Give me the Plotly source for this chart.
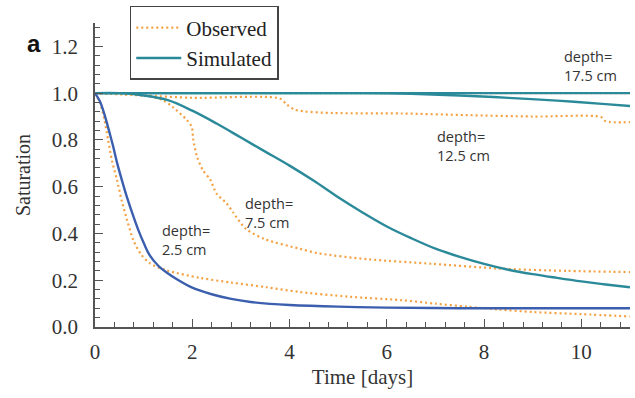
import plotly.graph_objects as go

# ---- data ----
t_sim25 = [0, 0.1, 0.2, 0.3, 0.37, 0.45, 0.55, 0.65, 0.82, 0.9, 1.0, 1.13, 1.3, 1.48, 1.7, 2.0, 2.4, 2.8, 3.2, 3.6, 4.0, 5.0, 6.0, 7.0, 8.0, 9.0, 10.0, 11.0]
s_sim25 = [1.0, 0.965, 0.905, 0.83, 0.775, 0.705, 0.63, 0.56, 0.455, 0.41, 0.36, 0.305, 0.262, 0.232, 0.202, 0.168, 0.14, 0.12, 0.107, 0.099, 0.094, 0.087, 0.083, 0.081, 0.08, 0.08, 0.08, 0.08]

t_obs25 = [0, 0.1, 0.19, 0.27, 0.35, 0.45, 0.55, 0.66, 0.79, 0.95, 1.13, 1.48, 2.16, 2.8, 3.53, 4.2, 5.2, 6.28, 7.0, 7.65, 8.3, 9.0, 10.0, 11.0]
s_obs25 = [1.0, 0.96, 0.89, 0.80, 0.71, 0.63, 0.54, 0.457, 0.37, 0.31, 0.272, 0.242, 0.21, 0.19, 0.17, 0.15, 0.13, 0.115, 0.10, 0.087, 0.075, 0.064, 0.055, 0.045]

t_sim75 = [0, 0.5, 1.0, 1.5, 2.0, 2.5, 3.0, 3.5, 4.0, 4.5, 5.0, 5.5, 6.0, 6.5, 7.0, 7.5, 8.0, 8.5, 9.0, 9.5, 10.0, 10.5, 11.0]
s_sim75 = [1.0, 1.0, 0.99, 0.97, 0.925, 0.87, 0.81, 0.75, 0.69, 0.625, 0.555, 0.49, 0.43, 0.38, 0.335, 0.3, 0.27, 0.245, 0.226, 0.21, 0.195, 0.182, 0.17]

t_obs75 = [0, 1.0, 1.4, 1.6, 1.89, 1.99, 2.02, 2.1, 2.22, 2.37, 2.5, 2.7, 2.84, 3.1, 3.5, 4.2, 4.6, 5.6, 6.95, 8.3, 9.7, 11.0]
s_obs75 = [1.0, 0.99, 0.97, 0.94, 0.885, 0.855, 0.80, 0.727, 0.67, 0.63, 0.57, 0.53, 0.49, 0.42, 0.375, 0.335, 0.315, 0.29, 0.27, 0.25, 0.24, 0.235]

t_sim125 = [0, 5.5, 6.5, 7.5, 8.5, 9.5, 10.5, 11.0]
s_sim125 = [1.0, 1.0, 0.997, 0.99, 0.98, 0.968, 0.953, 0.945]

t_obs125 = [0, 1.0, 2.0, 3.8, 3.95, 4.1, 4.3, 4.9, 6.3, 7.65, 9.0, 10.4, 10.5, 11.0]
s_obs125 = [1.0, 0.99, 0.98, 0.977, 0.95, 0.93, 0.922, 0.915, 0.913, 0.906, 0.90, 0.898, 0.88, 0.876]

t_sim175 = [0, 11.0]
s_sim175 = [1.0, 1.0]

t_obs175 = [0, 11.0]
s_obs175 = [1.0, 1.0]

labels = [("depth=<br>2.5 cm", 1.34, 0.37),
          ("depth=<br>7.5 cm", 3.05, 0.487),
          ("depth=<br>12.5 cm", 7.0, 0.773),
          ("depth=<br>17.5 cm", 9.6, 1.115)]

ORANGE = "#f5a142"
TEAL = "#2b8a9a"
BLUE = "#3b5fae"

fig = go.Figure()

def obs(t, s, show=False):
    fig.add_trace(go.Scatter(x=t, y=s, mode="lines", name="Observed", showlegend=show,
                             line=dict(color=ORANGE, width=2.2, dash="2px,3px", shape="spline", smoothing=0.8)))

def sim(t, s, color, show=False):
    fig.add_trace(go.Scatter(x=t, y=s, mode="lines", name="Simulated", showlegend=show,
                             line=dict(color=color, width=2.4, shape="spline", smoothing=1.0)))

obs(t_obs175, s_obs175, True)
obs(t_obs125, s_obs125)
obs(t_obs75, s_obs75)
obs(t_obs25, s_obs25)
sim(t_sim175, s_sim175, TEAL, True)
sim(t_sim125, s_sim125, TEAL)
sim(t_sim75, s_sim75, TEAL)
sim(t_sim25, s_sim25, BLUE)

for txt, x, y in labels:
    fig.add_annotation(x=x, y=y, text=txt, showarrow=False, xanchor="left", yanchor="middle",
                       align="left", font=dict(family="Open Sans", size=14.5, color="#333333"))

fig.add_annotation(x=-0.131, y=0.984, xref="paper", yref="paper", text="<b>a</b>", showarrow=False,
                   font=dict(family="Liberation Sans", size=24, color="#111111"))

axis_common = dict(showgrid=False, zeroline=False, showline=True, linecolor="#555555", linewidth=1.5,
                   ticks="inside", ticklen=8, tickcolor="#555555", tickwidth=1.3,
                   tickfont=dict(family="Liberation Serif", size=21, color="#333333"), mirror=False)

fig.update_xaxes(range=[0, 11.0], tick0=0, dtick=2, tickformat="d", ticklabelstandoff=5,
                 minor=dict(dtick=0.4, tick0=0, ticks="inside", ticklen=5, tickcolor="#555555"),
                 title=dict(text="Time [days]", font=dict(family="Liberation Serif", size=21, color="#333333"), standoff=6),
                 **axis_common)
fig.update_yaxes(range=[0, 1.3], tick0=0, dtick=0.2, tickformat=".1f", ticklabelstandoff=11,
                 minor=dict(dtick=0.04, tick0=0, ticks="inside", ticklen=5, tickcolor="#555555"),
                 title=dict(text="Saturation", font=dict(family="Liberation Serif", size=20, color="#333333"), standoff=16),
                 **axis_common)

fig.update_layout(
    width=635, height=398, margin=dict(l=95, r=5, t=23, b=71),
    paper_bgcolor="white", plot_bgcolor="white",
    legend=dict(x=0.065, y=1.056, xanchor="left", yanchor="top", bgcolor="white",
                bordercolor="#444444", borderwidth=1.5,
                font=dict(family="Liberation Serif", size=21, color="#222222"),
                tracegroupgap=0, itemwidth=45),
)

fig.write_html("out.html")
